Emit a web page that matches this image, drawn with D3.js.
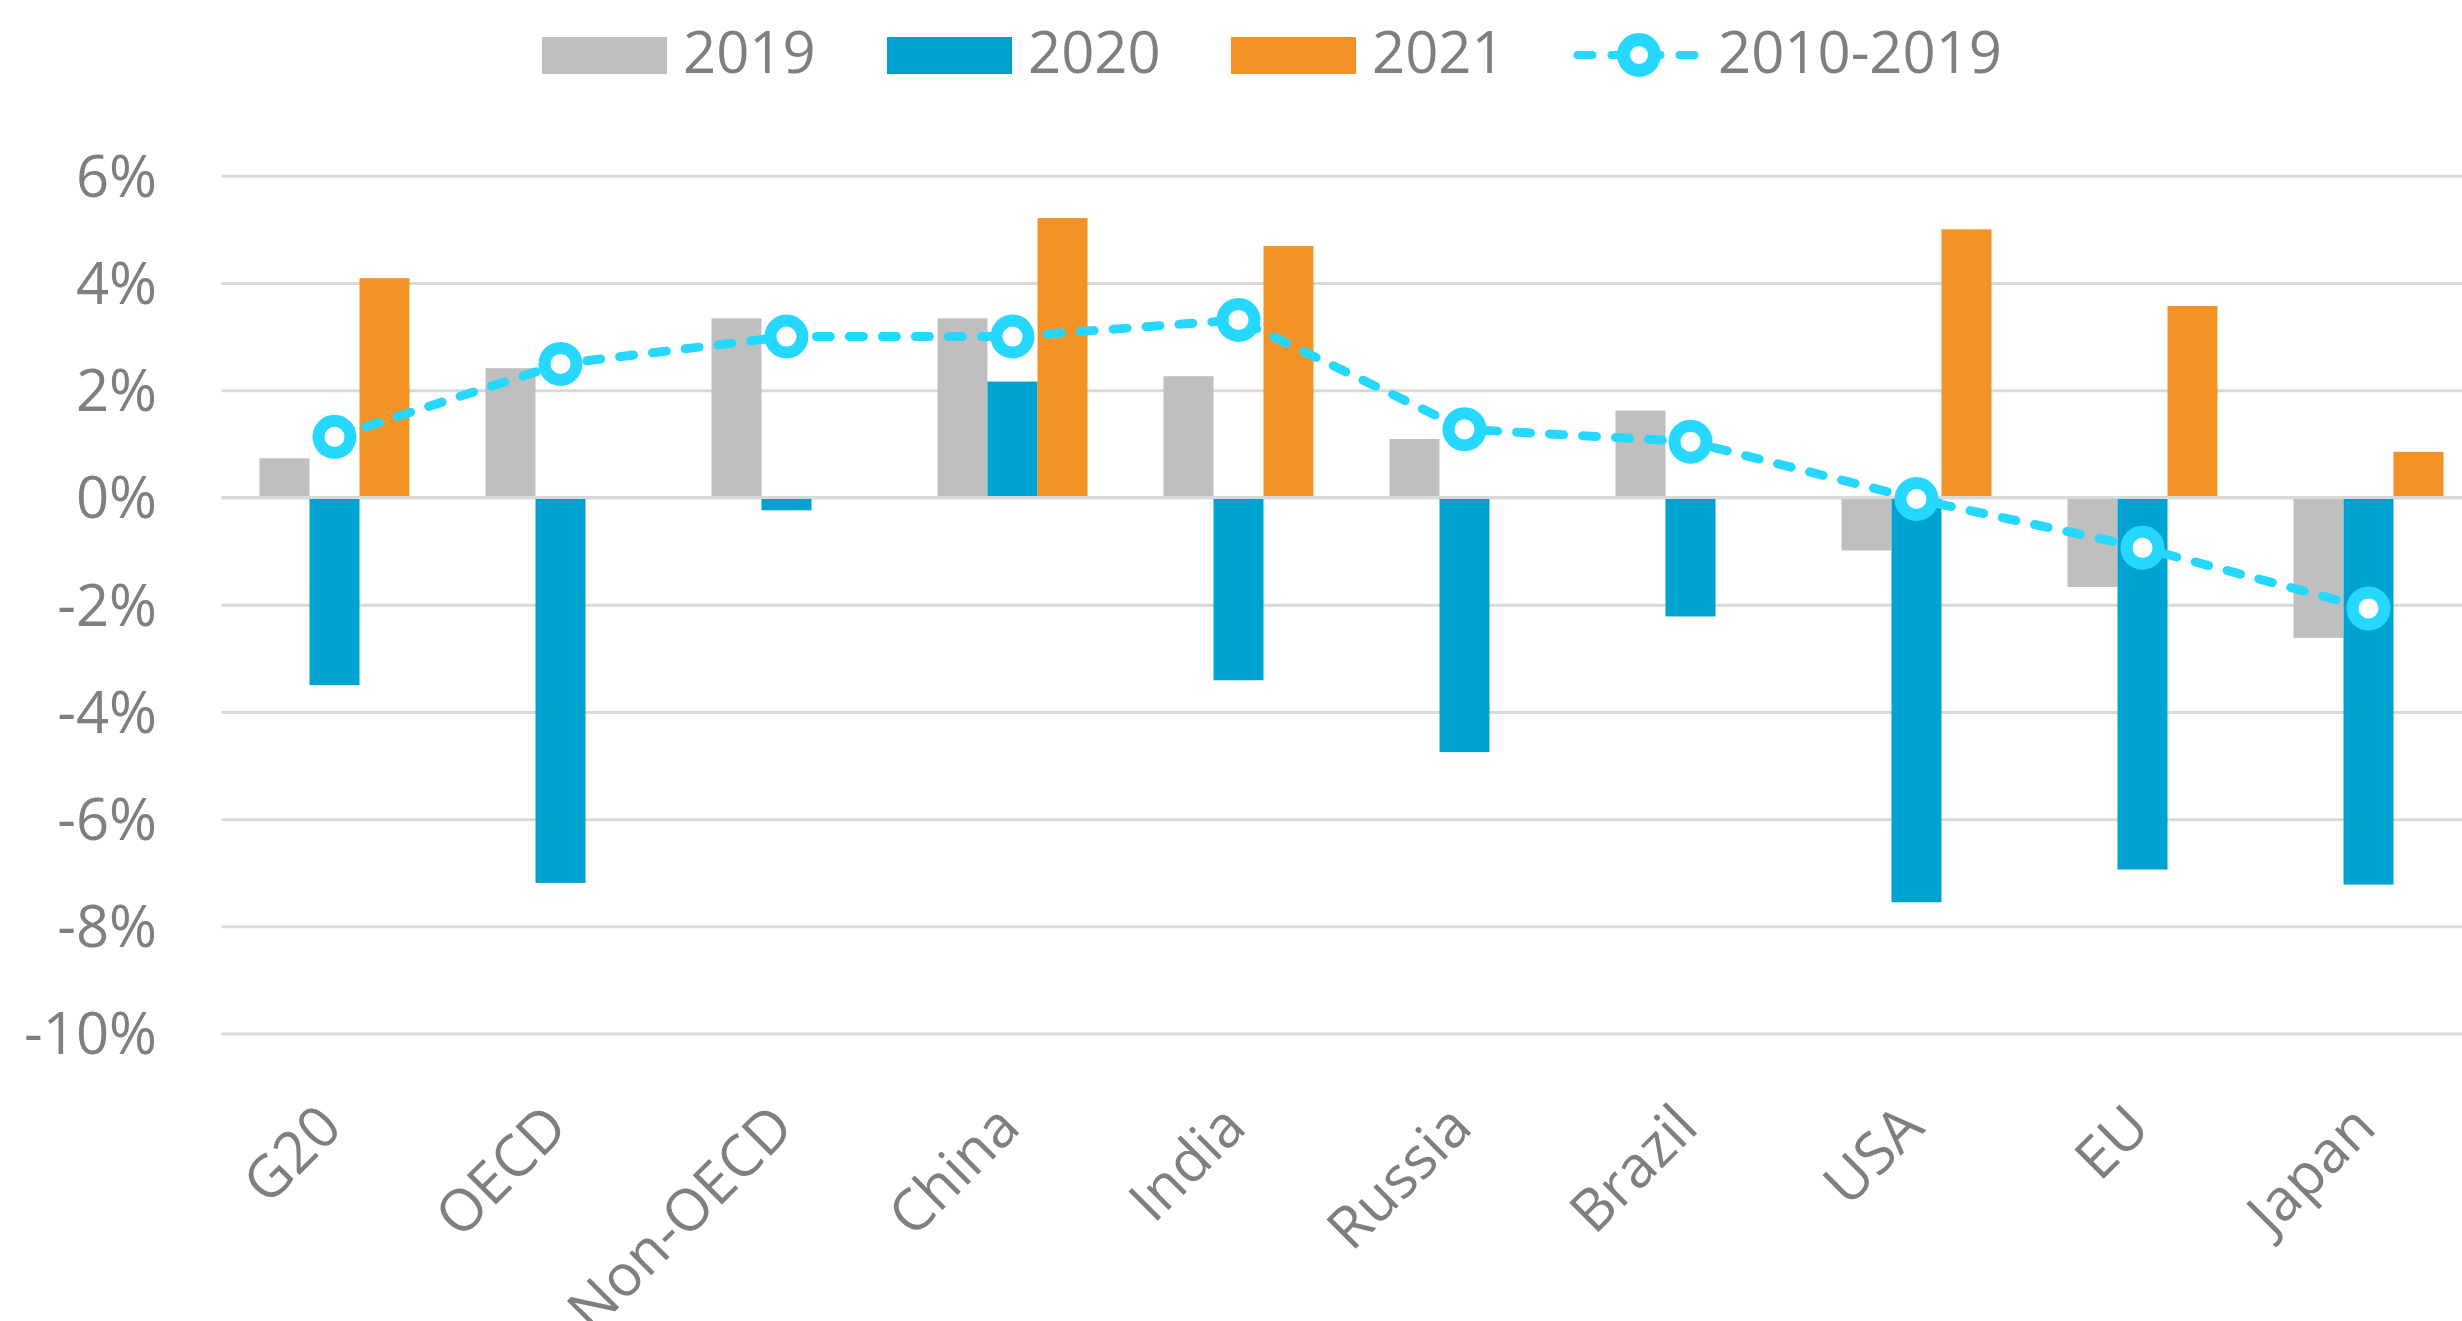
<!DOCTYPE html>
<html>
<head>
<meta charset="utf-8">
<script src="https://cdn.jsdelivr.net/npm/d3@7"></script>
<style>
  html, body { margin: 0; padding: 0; background: #fff; }
  svg { display: block; font-family: "Open Sans", "Noto Sans", sans-serif; }
</style>
</head>
<body>
<svg id="chart" width="2462" height="1321"></svg>
<script>
// values, in percent
const categories = ["G20", "OECD", "Non-OECD", "China", "India", "Russia", "Brazil", "USA", "EU", "Japan"];
const series = ["2019", "2020", "2021"];
const v2019 = [0.73, 2.41, 3.34, 3.34, 2.26, 1.09, 1.62, -0.99, -1.67, -2.62];
const v2020 = [-3.50, -7.19, -0.24, 2.16, -3.41, -4.75, -2.22, -7.55, -6.94, -7.22];
const v2021 = [4.09, null, null, 5.21, 4.69, null, null, 5.00, 3.57, 0.85];
const avg1019 = [1.13, 2.49, 3.00, 3.00, 3.31, 1.27, 1.04, -0.03, -0.94, -2.07];
const yTicks = [-10, -8, -6, -4, -2, 0, 2, 4, 6];
const lineName = "2010-2019";

const colors = {"2019": "#BFBFBF", "2020": "#00A3D0", "2021": "#F39327"};
const lineColor = "#26D8FF";
const textColor = "#7F7F7F";
const gridColor = "#D9D9D9";

const svg = d3.select("#chart");

const x0 = d3.scaleBand()
    .domain(categories)
    .range([221.5, 2481.5])
    .paddingInner(0)
    .paddingOuter(0);

const x1 = d3.scaleBand()
    .domain(series)
    .range([0, x0.bandwidth()])
    .paddingInner(0)
    .paddingOuter(0.76);

const y = d3.scaleLinear()
    .domain([-10, 6])
    .range([1033.6, 175.7]);

// gridlines
const grid = svg.append("g")
    .attr("transform", "translate(221.5,0)")
    .call(d3.axisLeft(y).tickValues(yTicks).tickSize(-2300).tickFormat(""));
grid.select(".domain").remove();
grid.selectAll("line").attr("stroke", gridColor).attr("stroke-width", 3);

// y labels
svg.append("g").selectAll("text")
    .data(yTicks)
    .join("text")
    .attr("x", 157)
    .attr("y", d => y(d))
    .attr("dy", "0.36em")
    .attr("text-anchor", "end")
    .attr("font-size", 58)
    .attr("fill", textColor)
    .text(d => d + "%");

// bars
const rows = categories.map((c, i) => ({cat: c, vals: {"2019": v2019[i], "2020": v2020[i], "2021": v2021[i]}}));

svg.append("g").selectAll("g")
    .data(rows)
    .join("g")
    .attr("transform", d => "translate(" + x0(d.cat) + ",0)")
    .selectAll("rect")
    .data(d => series.filter(s => d.vals[s] !== null).map(s => ({s: s, v: d.vals[s]})))
    .join("rect")
    .attr("x", d => x1(d.s))
    .attr("width", x1.bandwidth())
    .attr("y", d => Math.min(y(d.v), y(0)))
    .attr("height", d => Math.abs(y(d.v) - y(0)))
    .attr("fill", d => colors[d.s]);

// zero axis line on top of the bars
svg.append("line")
    .attr("x1", 221.5).attr("x2", 2521.5)
    .attr("y1", y(0)).attr("y2", y(0))
    .attr("stroke", gridColor)
    .attr("stroke-width", 3);

// 2010-2019 line
const cx = c => x0(c) + x0.bandwidth() / 2;
const line = d3.line()
    .x((d, i) => cx(categories[i]))
    .y(d => y(d));

svg.append("path")
    .datum(avg1019)
    .attr("d", line)
    .attr("fill", "none")
    .attr("stroke", lineColor)
    .attr("stroke-width", 9)
    .attr("stroke-dasharray", "14,19")
    .attr("stroke-linecap", "round");

svg.append("g").selectAll("circle")
    .data(avg1019)
    .join("circle")
    .attr("cx", (d, i) => cx(categories[i]))
    .attr("cy", d => y(d))
    .attr("r", 16)
    .attr("fill", "#fff")
    .attr("stroke", lineColor)
    .attr("stroke-width", 12);

// category labels
svg.append("g").selectAll("text")
    .data(categories)
    .join("text")
    .attr("transform", d => "translate(" + (cx(d) + 10) + ",1130) rotate(-45)")
    .attr("text-anchor", "end")
    .attr("font-size", 58)
    .attr("fill", textColor)
    .text(d => d);

// legend
const legend = svg.append("g");
const swatchX = [542, 887, 1231];
series.forEach((s, i) => {
    legend.append("rect")
        .attr("x", swatchX[i]).attr("y", 37)
        .attr("width", 125).attr("height", 37)
        .attr("fill", colors[s]);
    legend.append("text")
        .attr("x", swatchX[i] + 141).attr("y", 73)
        .attr("font-size", 58)
        .attr("fill", textColor)
        .text(s);
});
legend.append("line")
    .attr("x1", 1577.5).attr("x2", 1697.5)
    .attr("y1", 55).attr("y2", 55)
    .attr("stroke", lineColor)
    .attr("stroke-width", 8)
    .attr("stroke-dasharray", "15,19")
    .attr("stroke-linecap", "round");
legend.append("circle")
    .attr("cx", 1639).attr("cy", 55)
    .attr("r", 15.5)
    .attr("fill", "#fff")
    .attr("stroke", lineColor)
    .attr("stroke-width", 13);
legend.append("text")
    .attr("x", 1718).attr("y", 73)
    .attr("font-size", 58)
    .attr("fill", textColor)
    .text(lineName);
</script>
</body>
</html>
